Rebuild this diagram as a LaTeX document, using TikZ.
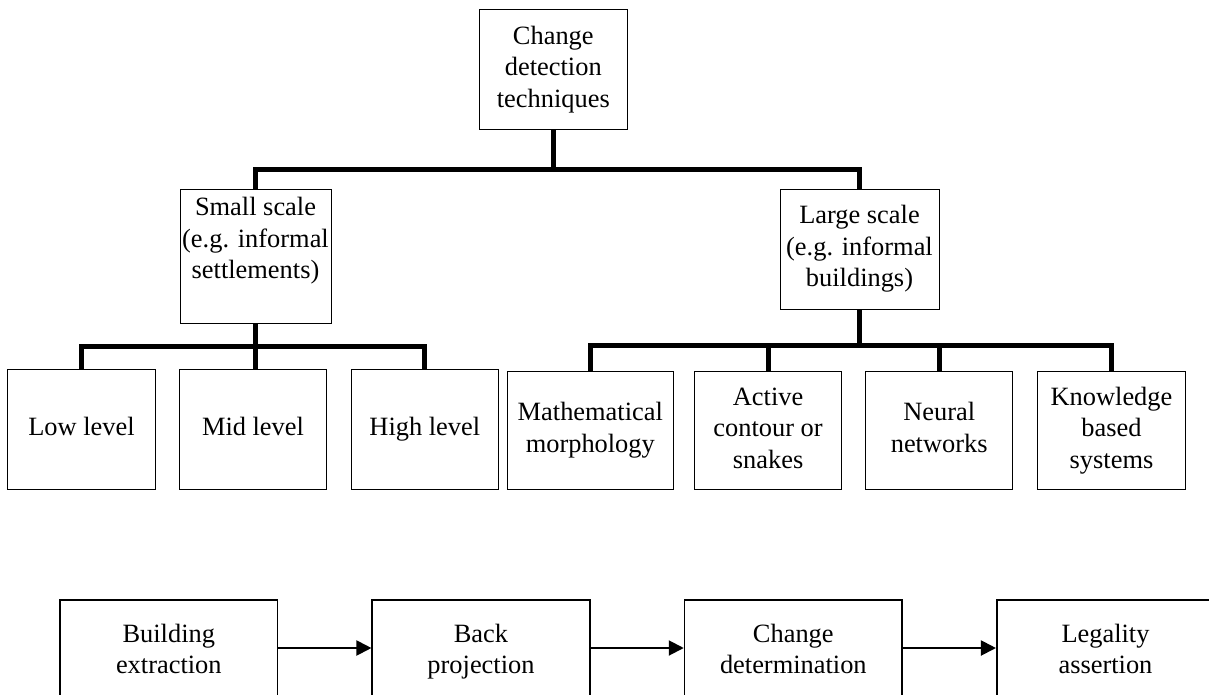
\documentclass[tikz,border=0pt]{standalone}
\usepackage{fontspec}
\setmainfont{Liberation Serif}
\usetikzlibrary{arrows.meta}
\begin{document}
\begin{tikzpicture}[x=1pt,y=-1pt,
  box/.style={draw, line width=1pt, inner sep=0pt},
  txt/.style={align=center, font=\fontsize{26.4}{31.5}\selectfont, inner sep=0pt},
  conn/.style={line width=5pt},
  flowbox/.style={draw, line width=1.6pt, minimum width=217.5pt, minimum height=140pt, inner sep=0pt},
  arr/.style={line width=2pt, -{Triangle[length=15pt,width=15pt]}}]
\useasboundingbox (0,0) rectangle (1209,695);
\clip (0,0) rectangle (1209,695);

% tree boxes
\node[box, txt, minimum width=148pt, minimum height=120pt] (top) at (553.3,69.3) {\strut Change\\\strut detection\\\strut techniques};
\node[box, minimum width=151pt, minimum height=134pt] (small) at (255.5,256.3) {};
\node[txt, anchor=north] (smallt) at (255.5,193.5) {\strut Small scale\\\strut (e.g. informal\\\strut settlements)};
\node[box, minimum width=159pt, minimum height=120pt] (large) at (859.5,249.3) {};
\node[txt, anchor=north] (larget) at (859.5,201.5) {\strut Large scale\\\strut (e.g. informal\\\strut buildings)};

\node[box, txt, minimum width=148pt, minimum height=120pt] (low) at (81.5,429.3) {\strut Low level};
\node[box, txt, minimum width=147pt, minimum height=120pt] (mid) at (253,429.3) {\strut Mid level};
\node[box, txt, minimum width=147.6pt, minimum height=120pt] (high) at (424.8,429.3) {\strut High level};

\node[box, txt, minimum width=165.5pt, minimum height=118.3pt] (math) at (590.3,430.2) {\strut Mathematical\\\strut morphology};
\node[box, txt, minimum width=147pt, minimum height=118.3pt] (active) at (768.1,430.2) {\strut Active\\\strut contour or\\\strut snakes};
\node[box, txt, minimum width=147pt, minimum height=118.3pt] (neural) at (939.2,430.2) {\strut Neural\\\strut networks};
\node[box, txt, minimum width=148pt, minimum height=118.3pt] (know) at (1111.5,430.2) {\strut Knowledge\\\strut based\\\strut systems};

% bar levels
\coordinate (b1) at (0,169.5);
\coordinate (b2) at (0,346.7);
\coordinate (b3) at (0,345);

\draw[conn] (small.north) |- (top.south |- b1) -| (large.north);
\draw[conn] (top.south) -- (top.south |- b1);
\draw[conn] (low.north) |- (small.south |- b2) -| (high.north);
\draw[conn] (small.south) -- (small.south |- mid.north);
\draw[conn] (math.north) |- (large.south |- b3) -| (know.north);
\draw[conn] (large.south) -- (large.south |- b3);
\draw[conn] (active.north) -- (active.north |- b3);
\draw[conn] (neural.north) -- (neural.north |- b3);

% flow row
\node[flowbox] (f1) at (168.8,670) {};
\node[flowbox] (f2) at (481,670) {};
\node[flowbox] (f3) at (793.3,670) {};
\node[flowbox] (f4) at (1105.5,670) {};
\node[txt] (f1t) at (168.8,651.5) {\strut Building\\\strut extraction};
\node[txt] (f2t) at (481,651.5) {\strut Back\\\strut projection};
\node[txt] (f3t) at (793.3,651.5) {\strut Change\\\strut determination};
\node[txt] (f4t) at (1105.5,651.5) {\strut Legality\\\strut assertion};

\coordinate (ay) at (0,648);
\draw[arr] (f1.east |- ay) -- (f2.west |- ay);
\draw[arr] (f2.east |- ay) -- (f3.west |- ay);
\draw[arr] (f3.east |- ay) -- (f4.west |- ay);
\end{tikzpicture}
\end{document}
